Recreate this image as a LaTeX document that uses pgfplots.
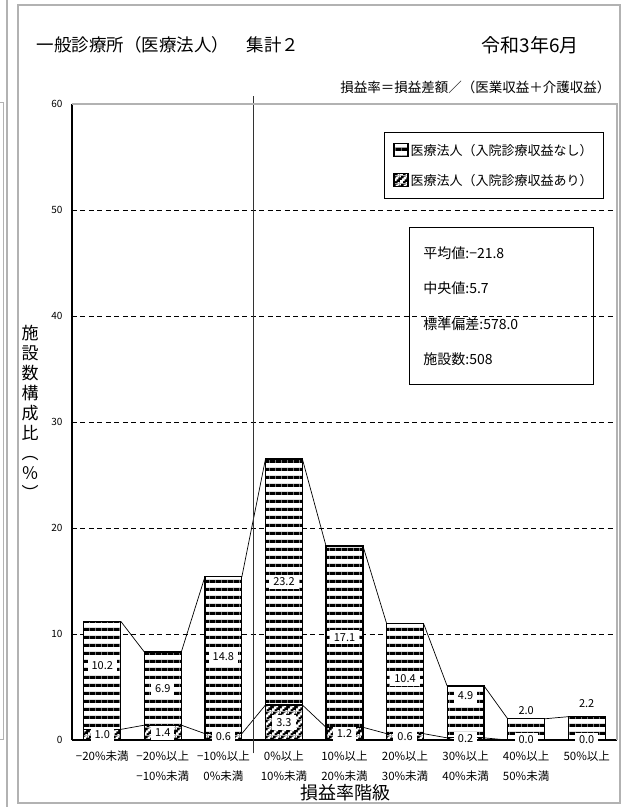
\documentclass[border=0pt]{standalone}
\usepackage{fontspec}
\setmainfont{Noto Sans CJK JP}
\usepackage{pgfplots}
\pgfplotsset{compat=1.18}
\usetikzlibrary{patterns}

% horizontal black/white bands (no inpatient revenue)
\pgfdeclarepatterninherentlycolored{hstripes}{\pgfpointorigin}{\pgfpoint{6pt}{8pt}}{\pgfpoint{6pt}{8pt}}{%
  \pgfsetfillcolor{white}\pgfpathrectangle{\pgfpointorigin}{\pgfpoint{6pt}{8pt}}\pgfusepath{fill}%
  \pgfsetfillcolor{black}\pgfpathrectangle{\pgfpointorigin}{\pgfpoint{6pt}{3.6pt}}\pgfusepath{fill}%
}
% black with white diagonal steps (with inpatient revenue)
\pgfdeclarepatterninherentlycolored{diagsteps}{\pgfpointorigin}{\pgfpoint{8pt}{8pt}}{\pgfpoint{8pt}{8pt}}{%
  \pgfsetfillcolor{black}\pgfpathrectangle{\pgfpointorigin}{\pgfpoint{8pt}{8pt}}\pgfusepath{fill}%
  \pgfsetfillcolor{white}%
  \pgfpathrectangle{\pgfpoint{0pt}{0pt}}{\pgfpoint{3pt}{3pt}}%
  \pgfpathrectangle{\pgfpoint{2pt}{2pt}}{\pgfpoint{3pt}{3pt}}%
  \pgfpathrectangle{\pgfpoint{4pt}{4pt}}{\pgfpoint{3pt}{3pt}}%
  \pgfpathrectangle{\pgfpoint{6pt}{6pt}}{\pgfpoint{2pt}{2pt}}%
  \pgfpathrectangle{\pgfpoint{0pt}{6pt}}{\pgfpoint{1pt}{2pt}}%
  \pgfpathrectangle{\pgfpoint{6pt}{0pt}}{\pgfpoint{2pt}{1pt}}%
  \pgfusepath{fill}%
}
\pgfplotsset{
  boxlegend/.style={legend image code/.code={\draw[##1, line width=1.2pt] (0pt,-6pt) rectangle (14pt,7pt);}},
  vallabel/.style={forget plot, draw=none, mark=none, nodes near coords, point meta=explicit symbolic,
    nodes near coords align=center,
    every node near coord/.append style={fill=white, inner xsep=4pt, inner ysep=3pt, font=\fontsize{11}{13}\selectfont}},
}

\begin{document}
\begin{tikzpicture}
\useasboundingbox (0pt,0pt) rectangle (624pt,807pt);
% frames
\draw[gray!60, line width=1.5pt] (18pt,4pt) rectangle (620pt,802pt);
\draw[gray!60, line width=1.2pt] (7pt,0pt) -- (7pt,807pt);
\draw[gray!60, line width=1pt] (0pt,704pt) -- (3pt,704pt) -- (3pt,67pt) -- (0pt,67pt);

\begin{axis}[
  at={(72pt,67pt)}, anchor=south west,
  scale only axis, width=545pt, height=636pt,
  xmin=-0.5, xmax=8.5, ymin=0, ymax=60,
  clip=false,
  axis x line*=bottom, axis y line*=left,
  axis line style={black, line width=1.2pt},
  xtick={0,...,8},
  xticklabels={{−20\%未満},{−20\%以上\\−10\%未満},{−10\%以上\\0\%未満},{0\%以上\\10\%未満},{10\%以上\\20\%未満},{20\%以上\\30\%未満},{30\%以上\\40\%未満},{40\%以上\\50\%未満},{50\%以上}},
  xticklabel style={align=center, font=\fontsize{11.5}{20}\selectfont, yshift=-7pt},
  ytick={0,10,...,60},
  yticklabel style={font=\fontsize{10}{12}\selectfont, xshift=-6pt},
  /pgf/number format/assume math mode=true,
  tick style={draw=none},
  ymajorgrids,
  grid style={black, line width=0.7pt, dash pattern=on 5pt off 3.5pt},
  legend style={at={(0.5725,0.956)}, anchor=north west, draw=black, line width=0.8pt,
    font=\fontsize{13}{15}\selectfont, row sep=13pt, inner xsep=9pt, inner ysep=10pt},
  legend cell align=left,
  after end axis/.code={
    \draw[gray!60, line width=1.5pt] (rel axis cs:0,1) -- (rel axis cs:1,1) -- (rel axis cs:1,0);
  },
]
% cumulative height (upper segment = no inpatient revenue)
\addplot[ybar, bar width=0.61, bar shift=0pt, draw=black, line width=1.2pt, pattern=hstripes, boxlegend]
  coordinates {(0,11.2) (1,8.3) (2,15.4) (3,26.5) (4,18.3) (5,11.0) (6,5.1) (7,2.0) (8,2.2)};
\addlegendentry{医療法人（入院診療収益なし）}
% lower segment = with inpatient revenue
\addplot[ybar, bar width=0.61, bar shift=0pt, draw=black, line width=1.2pt, pattern=diagsteps, boxlegend]
  coordinates {(0,1.0) (1,1.4) (2,0.6) (3,3.3) (4,1.2) (5,0.6) (6,0.2) (7,0.0) (8,0.0)};
\addlegendentry{医療法人（入院診療収益あり）}

% series lines
\addplot[forget plot, black, line width=0.7pt, unbounded coords=jump] coordinates {
  (0.305,11.2) (0.695,8.3) (0.5,nan) (1.305,8.3) (1.695,15.4) (1.5,nan)
  (2.305,15.4) (2.695,26.5) (2.5,nan) (3.305,26.5) (3.695,18.3) (3.5,nan)
  (4.305,18.3) (4.695,11.0) (4.5,nan) (5.305,11.0) (5.695,5.1) (5.5,nan)
  (6.305,5.1) (6.695,2.0) (6.5,nan) (7.305,2.0) (7.695,2.2)};
\addplot[forget plot, black, line width=0.7pt, unbounded coords=jump] coordinates {
  (0.305,1.0) (0.695,1.4) (0.5,nan) (1.305,1.4) (1.695,0.6) (1.5,nan)
  (2.305,0.6) (2.695,3.3) (2.5,nan) (3.305,3.3) (3.695,1.2) (3.5,nan)
  (4.305,1.2) (4.695,0.6) (4.5,nan) (5.305,0.6) (5.695,0.2) (5.5,nan)
  (6.305,0.2) (6.695,0.0) (6.5,nan) (7.305,0.0) (7.695,0.0)};

% divider between negative and positive classes
\addplot[forget plot, black!80, line width=0.9pt] coordinates {(2.5,-1.25) (2.5,60.75)};

% value labels
\addplot[vallabel]
  coordinates {(0,7.0)[10.2] (1,4.85)[6.9] (2,7.9)[14.8] (3,14.9)[23.2] (4,9.7)[17.1]
               (5,5.75)[10.4] (6,4.2)[4.9] (7,2.8)[2.0] (8,3.4)[2.2]};
\addplot[vallabel]
  coordinates {(0,0.5)[1.0] (1,0.7)[1.4] (2,0.3)[0.6] (3,1.65)[3.3] (4,0.6)[1.2]
               (5,0.3)[0.6] (6,0.1)[0.2] (7,0.0)[0.0] (8,0.0)[0.0]};
\end{axis}

% titles and labels
\node[anchor=west, font=\fontsize{17.5}{20}\selectfont] at (33pt,762pt) {一般診療所（医療法人）　集計２};
\node[anchor=west, font=\fontsize{19}{22}\selectfont] at (478pt,762pt) {令和3年6月};
\node[anchor=east, font=\fontsize{13.5}{15}\selectfont] at (614pt,720pt) {損益率＝損益差額／（医業収益＋介護収益）};
\node[font=\fontsize{18}{20}\selectfont] at (345pt,14pt) {損益率階級};
\node[align=center, font=\fontsize{17}{20}\selectfont] at (30pt,395pt) {施\\設\\数\\構\\成\\比\\︵\\％\\︶};
% statistics box
\node[draw=black, line width=0.8pt, anchor=north west, align=left, text width=156pt,
  inner xsep=14pt, inner ysep=19pt, font=\fontsize{14}{35.5}\selectfont]
  at (409pt,580pt) {平均値:−21.8\\中央値:5.7\\標準偏差:578.0\\施設数:508};
\end{tikzpicture}
\end{document}
